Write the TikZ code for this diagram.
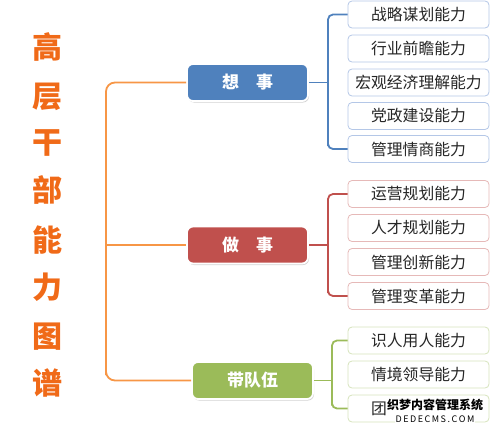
\documentclass[tikz,border=0pt]{standalone}
\usepackage{fontspec}
\setmainfont{Noto Sans CJK SC}
\usetikzlibrary{shadows}
\definecolor{mblue}{HTML}{4F81BD}
\definecolor{mred}{HTML}{C0504D}
\definecolor{mgreen}{HTML}{9BBB59}
\definecolor{morange}{HTML}{F79646}
\definecolor{ttl}{HTML}{F06A18}
\definecolor{sblue}{HTML}{B4C7E7}
\definecolor{sred}{HTML}{E6B9B8}
\definecolor{sgreen}{HTML}{D7E4BD}
\tikzset{
  mainbox/.style={draw=white, line width=1.8pt, rounded corners=6pt, text=white,
    minimum width=121pt, minimum height=37pt, inner sep=0pt,
    font=\bfseries\fontsize{17}{17}\selectfont,
    drop shadow={opacity=0.35, shadow xshift=1pt, shadow yshift=-1.5pt}},
  subbox/.style={draw=#1, line width=0.8pt, rounded corners=4pt, fill=white,
    minimum width=141pt, minimum height=27pt, inner sep=0pt, text=black!85,
    font=\fontsize{15.8}{15.8}\selectfont},
  ttlchar/.style={text=ttl, font=\bfseries\fontsize{30}{30}\selectfont, inner sep=0pt},
  conn/.style={draw=#1, line width=1.8pt, rounded corners=5pt},
  oline/.style={draw=morange, line width=1.8pt, rounded corners=9pt},
  wmark/.style={fill=white, inner sep=0.3pt}
}
\begin{document}
\begin{tikzpicture}[x=1pt,y=-1pt]
\useasboundingbox (0,0) rectangle (495,434);
% title
\foreach \c/\y [count=\i] in {高/47,层/97,干/143,部/190,能/240,力/287,图/337,谱/383}
  \node[ttlchar] (t\i) at (47,\y) {\c};
% main boxes
\node[mainbox, fill=mblue] (xs) at (247.5,82.5) {想\hspace{1em}事};
\node[mainbox, fill=mred] (zs) at (247.5,245) {做\hspace{1em}事};
\node[mainbox, fill=mgreen] (dd) at (252.5,380.5) {带队伍};
% sub boxes
\node[subbox=sblue] (a1) at (418.5,14.5) {战略谋划能力};
\node[subbox=sblue] (a2) at (418.5,48.5) {行业前瞻能力};
\node[subbox=sblue] (a3) at (418.5,82.5) {宏观经济理解能力};
\node[subbox=sblue] (a4) at (418.5,116) {党政建设能力};
\node[subbox=sblue] (a5) at (418.5,149) {管理情商能力};
\node[subbox=sred] (b1) at (418.5,194) {运营规划能力};
\node[subbox=sred] (b2) at (418.5,228) {人才规划能力};
\node[subbox=sred] (b3) at (418.5,262) {管理创新能力};
\node[subbox=sred] (b4) at (418.5,296) {管理变革能力};
\node[subbox=sgreen] (c1) at (418.5,340.5) {识人用人能力};
\node[subbox=sgreen] (c2) at (418.5,374.5) {情境领导能力};
\node[subbox=sgreen] (c3) at (418.5,408.5) {团\phantom{队建设能力}};
% orange spine
\coordinate (sp) at (106,0);
\draw[oline] (xs.west) -| (sp |- dd.west) |- (dd.west);
\draw[oline] (sp |- zs.west) -- (zs.west);
% brackets
\coordinate (bxa) at (328,0);
\coordinate (bxb) at (328,0);
\coordinate (bxc) at (332,0);
\draw[conn=mblue] (xs.east) -- (bxa |- xs.east);
\draw[conn=mblue] (a1.west) -| (bxa |- a5.west) |- (a5.west);
\draw[conn=mred] (zs.east) -- (bxb |- zs.east);
\draw[conn=mred] (b1.west) -| (bxb |- b4.west) |- (b4.west);
\draw[conn=mgreen] (dd.east) -- (bxc |- dd.east);
\draw[conn=mgreen] (c1.west) -| (bxc |- c3.west) |- (c3.west);
% watermark
\node[wmark, font=\bfseries\fontsize{12}{12}\selectfont] (wm1) at (435,405) {织梦内容管理系统};
\node[wmark, font=\fontsize{9}{9}\selectfont] (wm2) at (435,419.5) {D\,E\,D\,E\,C\,M\,S\,.\,C\,O\,M};
\end{tikzpicture}
\end{document}
